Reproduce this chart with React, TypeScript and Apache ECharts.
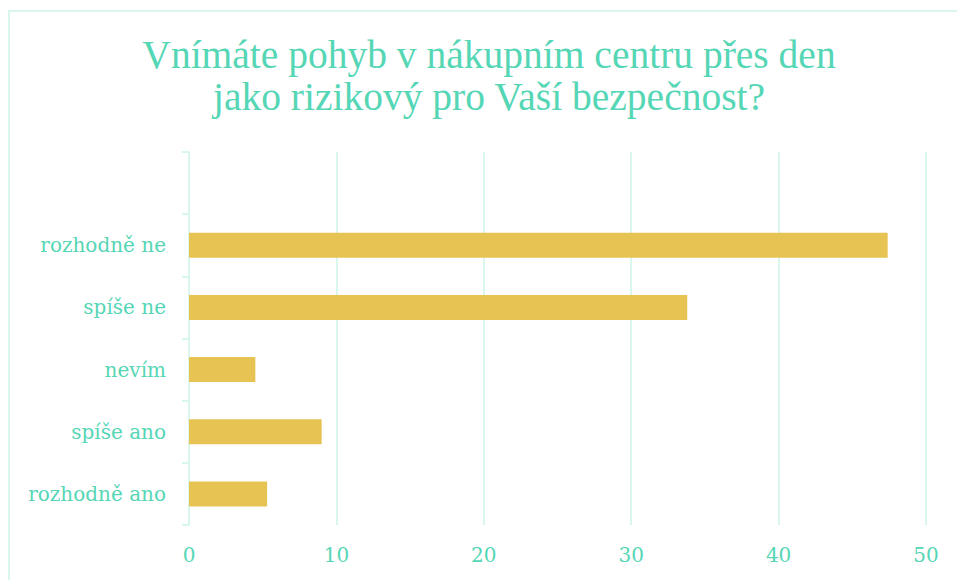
import React, { useEffect, useRef } from "react";
import * as echarts from "echarts";

const categories = ["rozhodně ano", "spíše ano", "nevím", "spíše ne", "rozhodně ne", ""];
const values = [5.3, 9.0, 4.5, 33.8, 47.4, null];
const xTicks = { min: 0, max: 50, interval: 10 };
const titleLines = ["Vnímáte pohyb v nákupním centru přes den", "jako rizikový pro Vaší bezpečnost?"];

const TEAL = "#55d6b5";
const LIGHT = "#d9f6ef";
const GOLD = "#e6c352";
const TITLE_FONT = "'Liberation Serif', serif";
const LABEL_FONT = "'DejaVu Serif', serif";

export default function App() {
  const ref = useRef<HTMLDivElement>(null);
  useEffect(() => {
    if (!ref.current) return;
    const chart = echarts.init(ref.current, undefined, { renderer: "svg" });
    chart.setOption({
      animation: false,
      backgroundColor: "#ffffff",
      graphic: [
        {
          type: "rect",
          shape: { x: 9, y: 11, width: 970, height: 600 },
          style: { fill: "none", stroke: LIGHT, lineWidth: 2 },
          silent: true,
        },
        ...titleLines.map((t, i) => ({
          type: "text",
          x: 489,
          y: 55 + i * 42,
          style: {
            text: t,
            fill: TEAL,
            font: `39.5px ${TITLE_FONT}`,
            textAlign: "center",
            textVerticalAlign: "middle",
          },
        })),
      ],
      grid: { left: 189, right: 31, top: 152, bottom: 55, containLabel: false },
      xAxis: {
        type: "value",
        min: xTicks.min,
        max: xTicks.max,
        interval: xTicks.interval,
        axisLine: { show: false },
        axisTick: { show: false },
        axisLabel: { color: TEAL, fontFamily: LABEL_FONT, fontSize: 20, margin: 20 },
        splitLine: { show: true, lineStyle: { color: LIGHT, width: 2 } },
      },
      yAxis: {
        type: "category",
        data: categories,
        axisLine: { show: true, lineStyle: { color: LIGHT, width: 2 } },
        axisTick: { show: true, length: 7, lineStyle: { color: LIGHT, width: 2 } },
        axisLabel: { color: TEAL, fontFamily: LABEL_FONT, fontSize: 20, margin: 23 },
        splitLine: { show: false },
      },
      series: [
        {
          type: "bar",
          data: values,
          barWidth: 25,
          itemStyle: { color: GOLD },
        },
      ],
    });
    return () => chart.dispose();
  }, []);
  return (
    <div
      ref={ref}
      style={{ position: "fixed", left: 0, top: 0, width: 957, height: 580 }}
    />
  );
}
